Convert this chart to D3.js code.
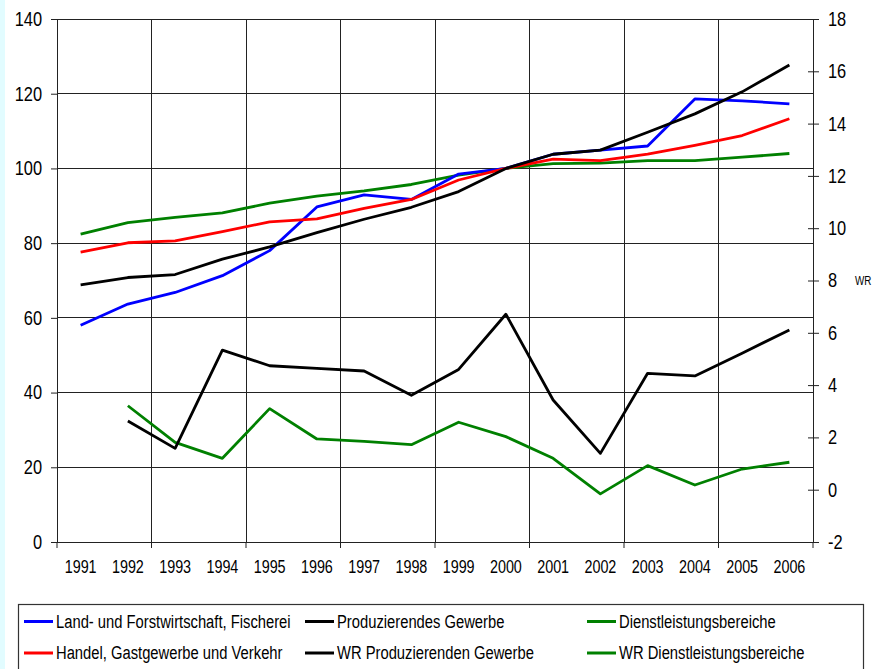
<!DOCTYPE html>
<html>
<head>
<meta charset="utf-8">
<script src="https://cdn.jsdelivr.net/npm/d3@7"></script>
<style>
  body { margin: 0; background: #fff; }
  svg text { font-family: "Liberation Sans", Arial, sans-serif; fill: #000; }
</style>
</head>
<body>
<svg id="chart" width="876" height="669"></svg>
<script>
// years on the x axis
const years = ["1991", "1992", "1993", "1994", "1995", "1996", "1997", "1998",
  "1999", "2000", "2001", "2002", "2003", "2004", "2005", "2006"];

// index series (left axis, 2000 = 100)
const landForst = [58, 63.7, 66.8, 71.3, 78.0, 89.7, 92.9, 91.7, 98.5, 100, 103.8, 104.9, 106, 118.6, 118.1, 117.3];
const produzierend = [68.8, 70.8, 71.6, 75.7, 79.0, 82.8, 86.4, 89.6, 93.8, 100, 103.8, 104.9, 109.7, 114.6, 120.5, 127.7];
const handel = [77.6, 80.1, 80.6, 83.1, 85.7, 86.5, 89.3, 91.7, 96.9, 100, 102.5, 102.1, 103.8, 106.2, 108.8, 113.3];
const dienst = [82.4, 85.5, 86.9, 88.1, 90.7, 92.6, 94.0, 95.7, 98.2, 100, 101.3, 101.4, 102.1, 102.1, 103.0, 104.0];

// growth rates (right axis), no value for 1991
const wrProduzierend = [null, 2.63, 1.58, 5.34, 4.74, 4.64, 4.54, 3.61, 4.60, 6.71, 3.43, 1.39, 4.45, 4.35, 5.22, 6.11];
const wrDienst = [null, 3.21, 1.81, 1.20, 3.10, 1.94, 1.85, 1.72, 2.58, 2.03, 1.20, -0.16, 0.92, 0.18, 0.79, 1.05];

const leftTicks = [0, 20, 40, 60, 80, 100, 120, 140];
const rightTicks = [-2, 0, 2, 4, 6, 8, 10, 12, 14, 16, 18];

const series = [
  { name: "Land- und Forstwirtschaft, Fischerei", values: landForst, color: "#0000ff", axis: "left" },
  { name: "Handel, Gastgewerbe und Verkehr", values: handel, color: "#ff0000", axis: "left" },
  { name: "Produzierendes Gewerbe", values: produzierend, color: "#000000", axis: "left" },
  { name: "WR Produzierenden Gewerbe", values: wrProduzierend, color: "#000000", axis: "right" },
  { name: "Dienstleistungsbereiche", values: dienst, color: "#008000", axis: "left" },
  { name: "WR Dienstleistungsbereiche", values: wrDienst, color: "#008000", axis: "right" }
];

const svg = d3.select("#chart");
const plot = { left: 57, right: 813, top: 19, bottom: 542 };

// light cyan strip on the left edge
svg.append("rect").attr("x", 0).attr("y", 0).attr("width", 5).attr("height", 669).attr("fill", "#e2fcff");

const x = d3.scaleBand().domain(years).range([plot.left, plot.right]);
const yL = d3.scaleLinear().domain([0, 140]).range([plot.bottom, plot.top]);
const yR = d3.scaleLinear().domain([-2, 18]).range([plot.bottom, plot.top]);

// gridlines: horizontal per left tick, vertical every second category
const grid = svg.append("g").attr("stroke", "#222").attr("stroke-width", 1).attr("shape-rendering", "crispEdges");
leftTicks.forEach(t => {
  grid.append("line").attr("x1", plot.left).attr("x2", plot.right).attr("y1", yL(t)).attr("y2", yL(t));
});
const vLines = years.filter((d, i) => i % 2 === 0).map(d => x(d)).concat([plot.right]);
vLines.forEach(v => {
  grid.append("line").attr("x1", v).attr("x2", v).attr("y1", plot.top).attr("y2", plot.bottom);
});

// left axis
const axL = svg.append("g").attr("transform", `translate(${plot.left},0)`)
  .call(d3.axisLeft(yL).tickValues(leftTicks).tickSize(6).tickPadding(9));
axL.selectAll("text").attr("font-size", 20);

// right axis (ticks cross the axis line)
const axR = svg.append("g").attr("transform", `translate(${plot.right},0)`)
  .call(d3.axisRight(yR).tickValues(rightTicks).tickSize(6).tickPadding(9).tickFormat(d3.format("d")));
axR.selectAll(".tick line").attr("x1", -5);
axR.selectAll("text").attr("font-size", 20).text(d => d < 0 ? "-" + Math.abs(d) : d);

// bottom axis: labels per year, ticks at the vertical gridlines
const axB = svg.append("g").attr("transform", `translate(0,${plot.bottom})`)
  .call(d3.axisBottom(x).tickSize(0).tickPadding(19));
axB.selectAll("text").attr("font-size", 17.5);
axB.select(".domain").remove();
vLines.forEach(v => {
  axB.append("line").attr("x1", v).attr("x2", v).attr("y1", 0).attr("y2", 6).attr("stroke", "#222");
});

[axL, axR].forEach(a => {
  a.selectAll(".domain").attr("stroke", "#222");
  a.selectAll(".tick line").attr("stroke", "#222");
});

// "WR" label beside the right axis
svg.append("text").attr("x", 855).attr("y", 281).attr("dy", "0.35em")
  .attr("font-size", 12).text("WR");

// series lines
const drawOrder = [4, 5, 0, 1, 3, 2];
drawOrder.forEach(k => {
  const s = series[k];
  const yScale = s.axis === "left" ? yL : yR;
  const line = d3.line()
    .defined(d => d != null)
    .x((d, i) => x(years[i]) + x.bandwidth() / 2)
    .y(d => yScale(d));
  svg.append("path")
    .datum(s.values)
    .attr("d", line)
    .attr("fill", "none")
    .attr("stroke", s.color)
    .attr("stroke-width", 2.8)
    .attr("stroke-linejoin", "round");
});

// legend box
svg.append("rect").attr("x", 18.5).attr("y", 604.5).attr("width", 845).attr("height", 80)
  .attr("fill", "none").attr("stroke", "#333").attr("stroke-width", 1.2);

const legCols = [24, 305, 587];
const legRows = [621.5, 653];
// series order in legend: column-wise by row
const legendOrder = [[0, 2, 4], [1, 3, 5]];
legendOrder.forEach((row, r) => {
  row.forEach((k, c) => {
    const s = series[k];
    const g = svg.append("g").attr("transform", `translate(${legCols[c]},${legRows[r]})`);
    g.append("line").attr("x1", 0).attr("x2", 29).attr("y1", 0).attr("y2", 0)
      .attr("stroke", s.color).attr("stroke-width", 3);
    g.append("text").attr("x", 32).attr("y", 0).attr("dy", "0.35em")
      .attr("font-size", 18).text(s.name);
  });
});

// the original uses a narrow sans face: squeeze every text to ~82% width
svg.selectAll("text").each(function() {
  const w = this.getComputedTextLength();
  if (w > 0) {
    d3.select(this).attr("textLength", w * 0.82).attr("lengthAdjust", "spacingAndGlyphs");
  }
});
</script>
</body>
</html>
